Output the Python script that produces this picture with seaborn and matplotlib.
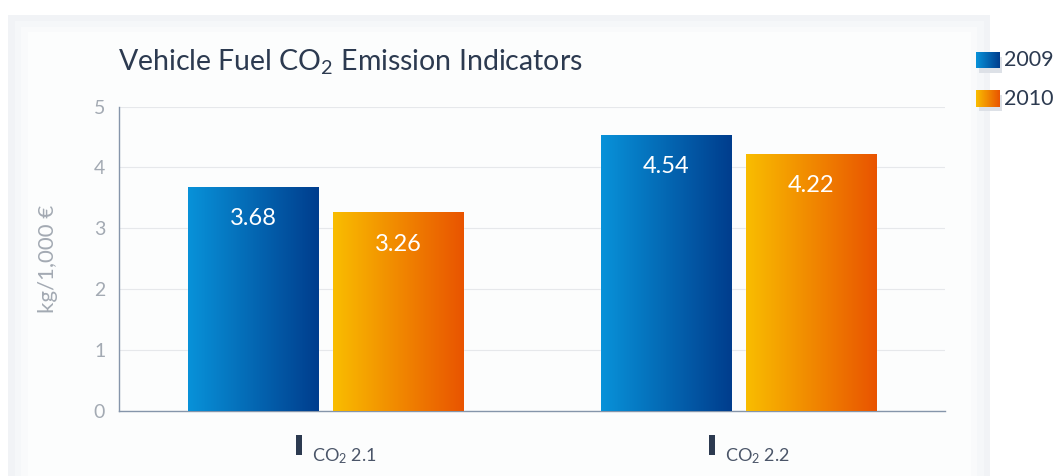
import numpy as np
import pandas as pd
import matplotlib
matplotlib.use("Agg")
import matplotlib.pyplot as plt
import matplotlib.transforms as mtransforms
from matplotlib.colors import LinearSegmentedColormap
from matplotlib.patches import Rectangle
import seaborn as sns

# Chart data
categories = ["CO$_2$ 2.1", "CO$_2$ 2.2"]
years = ["2009", "2010"]
values_2009 = [3.68, 4.54]
values_2010 = [3.26, 4.22]
y_ticks = [0, 1, 2, 3, 4, 5]

df = pd.DataFrame({
    "category": categories * 2,
    "year": [years[0]] * 2 + [years[1]] * 2,
    "value": values_2009 + values_2010,
})

gradients = {
    "2009": ("#0892d9", "#003d8d"),
    "2010": ("#f9bd00", "#e95400"),
}
text_dark = "#2c3a50"
text_grey = "#a3aab3"
axis_col = "#8595aa"

sns.set_style("white")
plt.rcParams["font.family"] = ["Lato", "DejaVu Sans"]
plt.rcParams["mathtext.fontset"] = "custom"
plt.rcParams["mathtext.rm"] = "Lato"
plt.rcParams["mathtext.it"] = "Lato"
plt.rcParams["mathtext.bf"] = "Lato"

fig = plt.figure(figsize=(10.59, 4.76), dpi=100)
fig.patch.set_facecolor("white")

# soft background panel
for i, c in enumerate(["#f1f3f6", "#f5f7f9", "#f9fafb", "#fcfdfd"]):
    d = i * 0.006
    fig.patches.append(Rectangle((0.008 + d, 0.0), 0.927 - 2 * d, 0.968 - d * 2,
                                 transform=fig.transFigure, facecolor=c,
                                 edgecolor="none", zorder=-10 + i))

ax = fig.add_axes([0.1125, 0.137, 0.78, 0.639])
ax.patch.set_alpha(0)

sns.barplot(data=df, x="category", y="value", hue="year", hue_order=years,
            order=categories, palette=[gradients[y][0] for y in years],
            width=0.7, gap=0.1, legend=False, ax=ax, zorder=3)

# replace flat fills with left-to-right gradients
grad = np.linspace(0, 1, 256).reshape(1, -1)
for year, container in zip(years, ax.containers):
    cmap = LinearSegmentedColormap.from_list(year, gradients[year])
    for bar in container:
        x0, y0 = bar.get_x(), bar.get_y()
        w, h = bar.get_width(), bar.get_height()
        im = ax.imshow(grad, cmap=cmap, aspect="auto", extent=[x0, x0 + w, y0, y0 + h],
                       zorder=3, interpolation="bilinear")
        im.set_clip_path(bar)
        bar.set_facecolor("none")
        ax.text(x0 + w / 2, y0 + h - 0.52, f"{h:.2f}", ha="center", va="center",
                color="white", fontsize=17, zorder=5)

ax.set_xlim(-0.5, 1.5)
ax.set_ylim(0, 5)
ax.set_yticks(y_ticks)
ax.yaxis.grid(True, color="#e6e8eb", linewidth=0.8, zorder=0)
ax.set_axisbelow(True)

for s in ["top", "right"]:
    ax.spines[s].set_visible(False)
for s in ["left", "bottom"]:
    ax.spines[s].set_color(axis_col)
    ax.spines[s].set_linewidth(1.0)

ax.tick_params(axis="y", direction="in", length=15, width=1, color=axis_col,
               labelcolor=text_grey, labelsize=14, pad=10)
ax.set_xticks([])
ax.set_xticks([0.5, 1.5], minor=True)
ax.tick_params(axis="x", which="minor", direction="in", length=6, width=1,
               color=axis_col, labelbottom=False)
ax.set_xlabel("")
ax.set_ylabel("kg/1,000 €", color=text_grey, fontsize=16, labelpad=26)

# category labels with small marker bar
trans = mtransforms.blended_transform_factory(ax.transData, fig.transFigure)
for i, cat in enumerate(categories):
    ax.add_patch(Rectangle((i - 0.071, 0.044), 0.014, 0.042, transform=trans,
                           facecolor=text_dark, edgecolor="none", clip_on=False))
    ax.text(i - 0.034, 0.02, cat, transform=trans, ha="left", va="bottom",
            color="#4a5568", fontsize=13)

fig.text(0.111, 0.87, "Vehicle Fuel CO$_2$ Emission Indicators", color=text_dark,
         fontsize=20.5, ha="left", va="center")

# legend with gradient swatches
for j, year in enumerate(years):
    yb = 0.857 - j * 0.081
    cmap = LinearSegmentedColormap.from_list(year, gradients[year])
    fig.patches.append(Rectangle((0.924, yb - 0.01), 0.022, 0.034,
                                 transform=fig.transFigure, facecolor="#dde1e7",
                                 edgecolor="none", zorder=-1))
    lax = fig.add_axes([0.922, yb, 0.022, 0.034])
    lax.set_zorder(2)
    lax.imshow(grad, cmap=cmap, aspect="auto", interpolation="bilinear")
    lax.axis("off")
    fig.text(0.948, yb + 0.017, year, color=text_dark, fontsize=15.5,
             ha="left", va="center")

plt.savefig("out.png", dpi=100, facecolor=fig.get_facecolor())
